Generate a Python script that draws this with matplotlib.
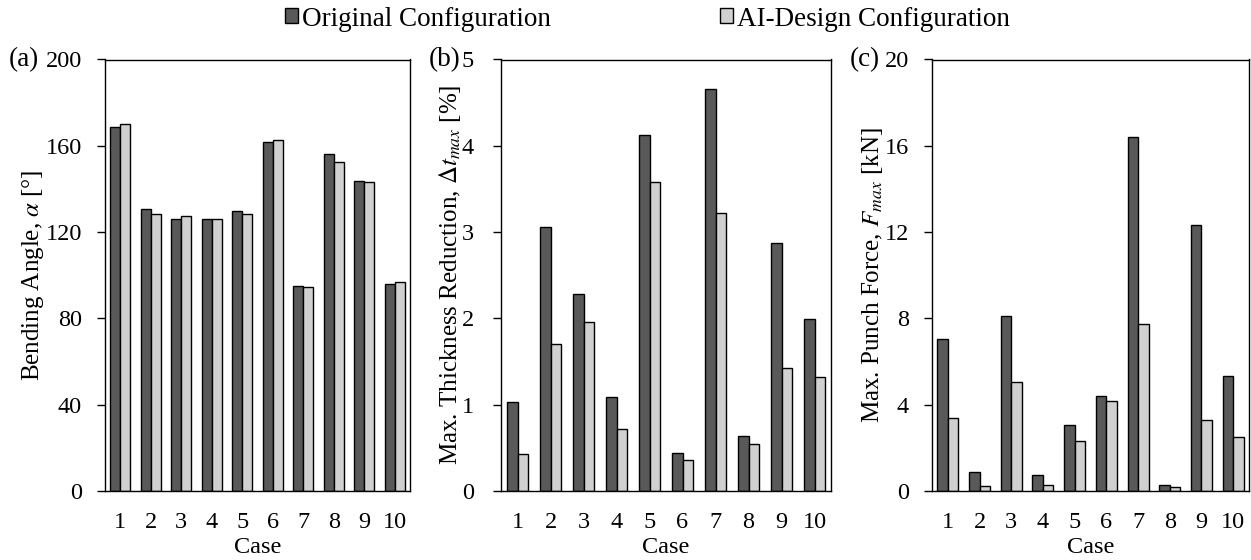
import matplotlib
matplotlib.use("Agg")
import matplotlib.pyplot as plt
import numpy as np

cases = ["1", "2", "3", "4", "5", "6", "7", "8", "9", "10"]

angle_orig = [168.8, 130.7, 126.0, 126.3, 129.9, 161.9, 94.8, 156.1, 143.6, 96.1]
angle_ai = [169.9, 128.5, 127.3, 126.0, 128.5, 162.9, 94.5, 152.7, 143.2, 96.7]

thick_orig = [1.03, 3.06, 2.28, 1.09, 4.12, 0.44, 4.66, 0.64, 2.87, 1.99]
thick_ai = [0.43, 1.70, 1.96, 0.72, 3.58, 0.36, 3.22, 0.55, 1.43, 1.32]

force_orig = [7.04, 0.87, 8.10, 0.74, 3.06, 4.41, 16.41, 0.26, 12.34, 5.32]
force_ai = [3.39, 0.23, 5.03, 0.29, 2.32, 4.15, 7.73, 0.20, 3.28, 2.51]

plt.rcParams['font.family'] = ['Liberation Serif', 'DejaVu Serif']
plt.rcParams['mathtext.fontset'] = 'stix'
FS = 17.5
YFS = 18
LFS = 19.5
TFS = 19.5

W, H = 1251, 560
fig = plt.figure(figsize=(W / 100, H / 100), dpi=100)

def ax_at(l, r, t, b):
    return fig.add_axes([l / W, 1 - b / H, (r - l) / W, (b - t) / H])

panels = [
    dict(box=(105, 410, 59.5, 491), orig=angle_orig, ai=angle_ai, ymax=200,
         ticks=[0, 40, 80, 120, 160, 200], ylabel=r"Bending Angle, $\alpha$ [°]",
         tag="(a)", tagx=9, ylx=33, pad=10.5),
    dict(box=(501, 831, 59.5, 491), orig=thick_orig, ai=thick_ai, ymax=5,
         ticks=[0, 1, 2, 3, 4, 5], ylabel=r"Max. Thickness Reduction, $\mathit{\Delta t_{max}}$ [%]",
         tag="(b)", tagx=429, ylx=450, pad=13.5),
    dict(box=(932, 1249, 59.5, 491), orig=force_orig, ai=force_ai, ymax=20,
         ticks=[0, 4, 8, 12, 16, 20], ylabel=r"Max. Punch Force, $F_{max}$ [kN]",
         tag="(c)", tagx=850, ylx=872, pad=10.5),
]

dark = "#595959"
light = "#d0d0d0"
bw = 0.33
x = np.arange(len(cases))
handles = None
for p in panels:
    ax = ax_at(*p["box"])
    b1 = ax.bar(x - bw / 2, p["orig"], bw, color=dark, edgecolor="black", linewidth=1.0,
                label="Original Configuration")
    b2 = ax.bar(x + bw / 2, p["ai"], bw, color=light, edgecolor="black", linewidth=1.0,
                label="AI-Design Configuration")
    handles = [b1, b2]
    ax.set_xlim(-0.5, len(cases) - 0.5)
    ax.set_ylim(0, p["ymax"])
    ax.set_yticks(p["ticks"])
    ax.set_xticks(x)
    ax.set_xticklabels(cases)
    ax.tick_params(axis="y", direction="out", length=6, width=1, labelsize=FS, pad=p["pad"])
    ax.tick_params(axis="x", length=0, labelsize=FS, pad=15)
    for s in ax.spines.values():
        s.set_linewidth(1.0)
    ax.set_xlabel("Case", fontsize=FS, labelpad=3)
    ax.set_ylabel(p["ylabel"], fontsize=YFS)
    ax.yaxis.set_label_coords((p["ylx"] + 13 - p["box"][0]) / (p["box"][1] - p["box"][0]), 0.5)
    fig.text(p["tagx"] / W, 1 - 60 / H, p["tag"], fontsize=TFS, ha="left", va="center")

for h, lab, lx in [(handles[0], "Original Configuration", 285),
                   (handles[1], "AI-Design Configuration", 720)]:
    fig.legend([h], [lab], loc="center left", bbox_to_anchor=(lx / W, 1 - 19 / H),
               frameon=False, fontsize=LFS, handlelength=0.48, handleheight=0.48,
               handletextpad=0.15, borderpad=0, borderaxespad=0)

fig.savefig("out.png", dpi=100)
